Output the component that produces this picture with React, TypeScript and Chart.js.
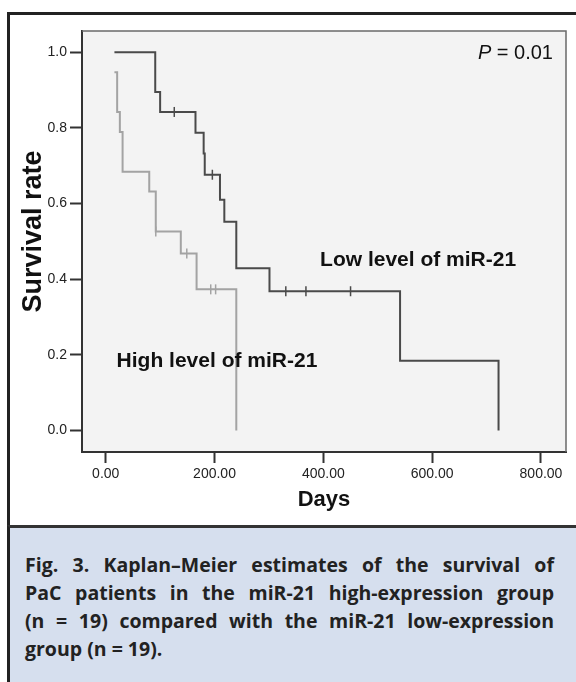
import { useEffect, useRef } from 'react';
import { Chart, registerables } from 'chart.js';

Chart.register(...registerables);

// ---- Data (days, survival probability) ----
const lowTimes = [16, 91, 100, 165, 180, 182, 210, 218, 240, 301, 541, 722];
const lowSurvival = [1.0, 0.895, 0.842, 0.787, 0.732, 0.676, 0.61, 0.552, 0.429, 0.368, 0.184, 0.0];
const lowCensorTimes = [126, 196, 331, 368, 450];
const lowCensorSurvival = [0.842, 0.676, 0.368, 0.368, 0.368];

const highTimes = [16, 21, 26, 31, 80, 92, 138, 167, 240];
const highSurvival = [0.947, 0.842, 0.789, 0.684, 0.632, 0.526, 0.468, 0.373, 0.0];
const highCensorTimes = [92, 149, 193, 202];
const highCensorSurvival = [0.526, 0.468, 0.373, 0.373];

const xTicks = [0, 200, 400, 600, 800];
const yTicks = [0, 0.2, 0.4, 0.6, 0.8, 1.0];

const xTitle = 'Days';
const yTitle = 'Survival rate';
const lowLabel = 'Low level of miR-21';
const highLabel = 'High level of miR-21';
const pLabel = ['P', ' = 0.01'];
const captionLines = [
  'Kaplan–Meier estimates of the survival of',
  'PaC patients in the miR-21 high-expression group',
  '(n = 19) compared with the miR-21 low-expression',
  'group (n = 19).',
];

const LOW_COLOR = '#4a4a4a';
const HIGH_COLOR = '#a3a3a3';

function toPoints(xs: number[], ys: number[]) {
  return xs.map((x, i) => ({ x, y: ys[i] }));
}

const decorPlugin = {
  id: 'decor',
  beforeDraw(chart: any) {
    const { ctx, chartArea: a } = chart;
    ctx.save();
    ctx.fillStyle = '#f3f3f3';
    ctx.fillRect(a.left, a.top, a.right - a.left, a.bottom - a.top);
    ctx.restore();
  },
  afterDraw(chart: any) {
    const { ctx, chartArea: a, scales } = chart;
    const xs = scales.x;
    const ys = scales.y;
    ctx.save();
    // top and right frame of the plot box
    ctx.strokeStyle = '#6a6a6a';
    ctx.lineWidth = 1.5;
    ctx.beginPath();
    ctx.moveTo(a.left, a.top);
    ctx.lineTo(a.right, a.top);
    ctx.lineTo(a.right, a.bottom);
    ctx.stroke();

    ctx.fillStyle = '#111';
    ctx.textBaseline = 'middle';

    // y axis title (rotated), centred a little above the plot's middle as in the reference
    ctx.save();
    ctx.translate(34, ys.getPixelForValue(0.526));
    ctx.rotate(-Math.PI / 2);
    ctx.textAlign = 'center';
    ctx.font = 'bold 27px "Liberation Sans", Arial, sans-serif';
    ctx.fillText(yTitle, 0, 0);
    ctx.restore();

    ctx.font = 'bold 21px "Liberation Sans", Arial, sans-serif';
    ctx.textAlign = 'left';
    ctx.fillText(lowLabel, xs.getPixelForValue(394), ys.getPixelForValue(0.449));
    ctx.fillText(highLabel, xs.getPixelForValue(20), ys.getPixelForValue(0.182));

    // P = 0.01, right aligned
    const rx = xs.getPixelForValue(822);
    const py = ys.getPixelForValue(0.997);
    ctx.font = '20px "Liberation Sans", Arial, sans-serif';
    const restW = ctx.measureText(pLabel[1]).width;
    ctx.textAlign = 'right';
    ctx.fillText(pLabel[1], rx, py);
    ctx.font = 'italic 20px "Liberation Sans", Arial, sans-serif';
    ctx.fillText(pLabel[0], rx - restW, py);
    ctx.restore();
  },
};

export default function App() {
  const ref = useRef<HTMLCanvasElement>(null);

  useEffect(() => {
    document.body.style.margin = '0';
    const canvas = ref.current;
    if (!canvas) return;
    const tickFont = { family: '"Liberation Sans Narrow", "Liberation Sans", Arial, sans-serif', size: 14 };
    const chart = new Chart(canvas, {
      type: 'line',
      data: {
        datasets: [
          {
            label: 'Low',
            data: toPoints(lowTimes, lowSurvival),
            borderColor: LOW_COLOR,
            borderWidth: 2,
            stepped: 'before',
            pointRadius: 0,
            fill: false,
          },
          {
            label: 'High',
            data: toPoints(highTimes, highSurvival),
            borderColor: HIGH_COLOR,
            borderWidth: 2,
            stepped: 'before',
            pointRadius: 0,
            fill: false,
          },
          {
            label: 'Low censored',
            data: toPoints(lowCensorTimes, lowCensorSurvival),
            showLine: false,
            pointStyle: 'line',
            rotation: 90,
            pointRadius: 5,
            borderWidth: 1.5,
            borderColor: LOW_COLOR,
          },
          {
            label: 'High censored',
            data: toPoints(highCensorTimes, highCensorSurvival),
            showLine: false,
            pointStyle: 'line',
            rotation: 90,
            pointRadius: 5,
            borderWidth: 1.5,
            borderColor: HIGH_COLOR,
          },
        ] as any,
      },
      options: {
        animation: false,
        responsive: false,
        devicePixelRatio: 1,
        layout: { padding: { top: 31, right: 10, left: 0, bottom: 0 } },
        plugins: {
          legend: { display: false },
          tooltip: { enabled: false },
        },
        scales: {
          x: {
            type: 'linear',
            min: -43.6,
            max: 846,
            afterBuildTicks: (s: any) => {
              s.ticks = xTicks.map((v) => ({ value: v }));
            },
            afterFit: (s: any) => {
              s.height = 74;
            },
            ticks: {
              font: tickFont,
              color: '#222',
              padding: 3,
              maxRotation: 0,
              autoSkip: false,
              callback: (v: any) => Number(v).toFixed(2),
            },
            grid: {
              drawOnChartArea: false,
              drawTicks: true,
              tickLength: 11,
              tickColor: '#333',
              tickWidth: 2,
            } as any,
            border: { display: true, color: '#333', width: 2 },
            title: {
              display: true,
              text: xTitle,
              color: '#111',
              font: { family: '"Liberation Sans", Arial, sans-serif', size: 22, weight: 'bold' },
              padding: { top: 0, bottom: 13 },
            },
          },
          y: {
            type: 'linear',
            min: -0.057,
            max: 1.056,
            afterBuildTicks: (s: any) => {
              s.ticks = yTicks.map((v) => ({ value: v }));
            },
            afterFit: (s: any) => {
              s.width = 82;
            },
            ticks: {
              font: tickFont,
              color: '#222',
              padding: 3,
              autoSkip: false,
              callback: (v: any) => Number(v).toFixed(1),
            },
            grid: {
              drawOnChartArea: false,
              drawTicks: true,
              tickLength: 12,
              tickColor: '#333',
              tickWidth: 2,
            } as any,
            border: { display: true, color: '#333', width: 2 },
            title: { display: false, text: yTitle },
          },
        },
      } as any,
      plugins: [decorPlugin],
    });
    return () => chart.destroy();
  }, []);

  return (
    <div style={{ position: 'relative', width: 576, height: 682, overflow: 'hidden', background: '#fff' }}>
      <div
        style={{
          position: 'absolute',
          left: 7,
          top: 12,
          width: 620,
          height: 700,
          borderLeft: '3px solid #222',
          borderTop: '3px solid #222',
          boxSizing: 'border-box',
        }}
      />
      <div
        style={{
          position: 'absolute',
          left: 7,
          top: 525,
          width: 620,
          height: 200,
          borderTop: '3px solid #333',
          borderLeft: '3px solid #222',
          boxSizing: 'border-box',
          background: '#d6dfee',
        }}
      />
      <div style={{ position: 'absolute', left: 0, top: 0, width: 576, height: 526 }}>
        <canvas ref={ref} width={576} height={526} style={{ display: 'block' }} />
      </div>
      <div
        style={{
          position: 'absolute',
          left: 25,
          top: 551,
          width: 529,
          fontFamily: '"Open Sans", "Noto Sans", sans-serif',
          fontWeight: 700,
          fontSize: 19.5,
          lineHeight: '28px',
          color: '#222',
        }}
      >
        {captionLines.map((line, i) => (
          <div
            key={i}
            style={{
              whiteSpace: 'nowrap',
              textAlign: 'justify',
              textAlignLast: i < captionLines.length - 1 ? 'justify' : 'left',
            }}
          >
            {i === 0 ? <span>Fig. 3. </span> : null}
            {line}
          </div>
        ))}
      </div>
    </div>
  );
}
